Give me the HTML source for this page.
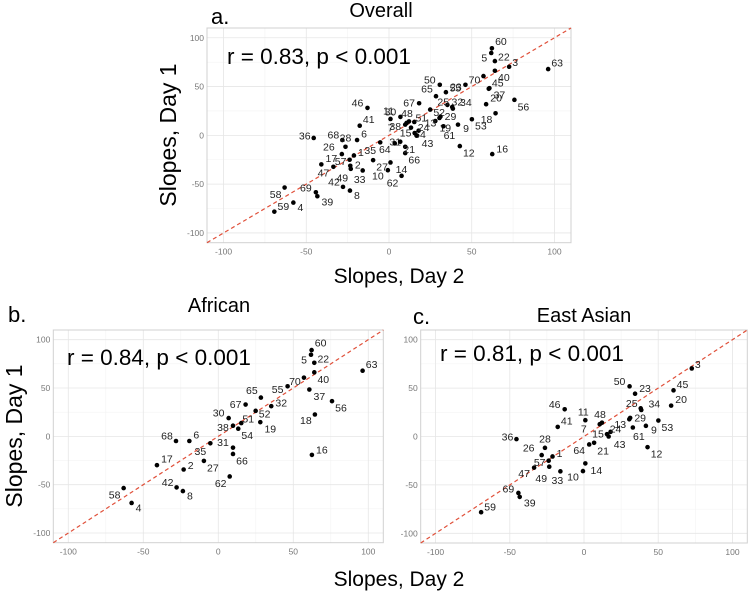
<!DOCTYPE html>
<html><head><meta charset="utf-8">
<style>
html,body{margin:0;padding:0;background:#fff;}
svg{display:block;font-family:"Liberation Sans",Arial,sans-serif;}
</style></head>
<body>
<svg id="fig" width="750" height="597" viewBox="0 0 750 597" xmlns="http://www.w3.org/2000/svg">
  <text x="211" y="24" font-size="22">a.</text>
  <text x="381" y="17" font-size="20" text-anchor="middle">Overall</text>
  <text transform="translate(176,135) rotate(-90)" font-size="23" text-anchor="middle">Slopes, Day 1</text>
  <text x="399" y="283" font-size="21" text-anchor="middle">Slopes, Day 2</text>
  <text x="8" y="322" font-size="22">b.</text>
  <text x="219" y="312" font-size="20" text-anchor="middle">African</text>
  <text x="413" y="324" font-size="22">c.</text>
  <text x="584" y="322" font-size="20" text-anchor="middle">East Asian</text>
  <text transform="translate(22,436) rotate(-90)" font-size="23" text-anchor="middle">Slopes, Day 1</text>
  <text x="399" y="586" font-size="21" text-anchor="middle">Slopes, Day 2</text>
</svg>
<script>
// African panel data
const africanIds = ["60","5","22","40","63","70","55","37","56","18","16","65","67","32","52","30","51","38","54","19","68","6","35","31","66","27","17","2","62","42","8","58","4"];
const africanDay2 = [62.2,61.8,64,64,96.2,57.1,46.2,60.7,75.8,64.4,62.4,28.4,18.2,35.3,24.9,6.9,15.3,9.8,13.3,28,-28.2,-19.3,-5.3,9.8,9.8,-9.6,-40.9,-23.1,7.6,-27.8,-23.6,-63.1,-57.8];
const africanDay1 = [89.2,84.4,76.1,66.2,67.9,60.7,51.8,48.4,36.4,22.6,-19.2,40.1,32.9,31.2,26.4,18.9,13.7,11,7.9,14.7,-4.8,-4.8,-7.2,-11.7,-18.2,-25.4,-29.8,-34.3,-41.5,-52.8,-56.6,-53.5,-68.9];
const africanLabelDx = [9,-7,9,9,9,-9,-10,10,9,-9,10,-9,-10,10,9,-10,7,-10,9,10,-9,7,-10,-10,9,9,10,7,-9,-9,7,-9,7];
const africanLabelDy = [-7,5,-4,7,-6,4,3,7,7,6,-5,-7,0,-3,3,-5,-4,2,7,7,-5,-6,8,-5,7,7,-6,-4,7,-5,5,7,5];

// East Asian panel data
const eastIds = ["3","50","23","45","20","25","34","29","13","61","9","53","12","46","41","11","48","7","24","15","43","21","64","36","28","26","1","57","49","47","33","10","14","69","39","59"];
const eastDay2 = [72.6,30.7,34.4,60.3,58.7,38.2,38.6,31.1,30.5,32.9,41.7,50.1,42.8,-13,-17.7,0.9,12.1,10.6,17.9,15.5,16.6,6.8,3.5,-45.5,-26.3,-28.5,-21.2,-23.8,-23.4,-33.6,-15.9,-0.7,0.9,-44.2,-43.3,-69.3];
const eastDay1 = [70.3,51.8,44.2,47.7,31.9,29.1,27.4,19.2,17.8,9.3,11,16.5,-11,28.1,9.9,16.8,14.3,12.7,4.8,2.4,0,-6.5,-8.2,-2.7,-11.7,-19.2,-20.6,-25,-31.2,-32.2,-36,-35.7,-27.8,-58.3,-62.4,-78.2];
const eastLabelDx = [6,-10,10,9,10,-9,13,10,-9,6,8,9,9,-10,9,-2,-2,-16,5,-9,11,9,-10,-9,0,-13,7,-9,-8,-10,-3,-10,11,-10,10,9];
const eastLabelDy = [-4,-5,-5,-6,-6,-5,-6,0,5,9,4,7,7,-5,-6,-8,-8,5,-3,0,8,8,6,-2,-9,-7,-3,2,12,6,9,6,7,-4,6,-5];

const tickValues = [-100,-50,0,50,100];
const tickLabels = ["-100","-50","0","50","100"];
const minorValues = [-75,-25,25,75];
const axisDomain = [-110,110];

const statA = "r = 0.83, p < 0.001";
const statB = "r = 0.84, p < 0.001";
const statC = "r = 0.81, p < 0.001";

const NS = "http://www.w3.org/2000/svg";
const svg = document.getElementById("fig");
function mk(tag, attrs, parent){
  const e = document.createElementNS(NS, tag);
  for (const k in attrs) e.setAttribute(k, attrs[k]);
  (parent||svg).appendChild(e);
  return e;
}
function drawPanel(key, box, stat, statX, statY, ids, xs, ys, ldx, ldy){
  const g = mk("g", {});
  
  
  const sx = v => box.l + (v - axisDomain[0]) / (axisDomain[1]-axisDomain[0]) * (box.r - box.l);
  const sy = v => box.b - (v - axisDomain[0]) / (axisDomain[1]-axisDomain[0]) * (box.b - box.t);
  mk("rect", {x:box.l, y:box.t, width:box.r-box.l, height:box.b-box.t, fill:"#fff"}, g);
  minorValues.forEach(v=>{
    const gl = mk("line", {x1:sx(v), x2:sx(v), y1:box.t, y2:box.b, stroke:"#f3f3f3", "stroke-width":0.6}, g);
    
    
    const gl2 = mk("line", {y1:sy(v), y2:sy(v), x1:box.l, x2:box.r, stroke:"#f3f3f3", "stroke-width":0.6}, g);
    
    
  });
  tickValues.forEach((v,i)=>{
    const gl = mk("line", {x1:sx(v), x2:sx(v), y1:box.t, y2:box.b, stroke:"#e6e6e6", "stroke-width":0.8}, g);
    
    
    const gl2 = mk("line", {y1:sy(v), y2:sy(v), x1:box.l, x2:box.r, stroke:"#e6e6e6", "stroke-width":0.8}, g);
    
    
    const tx = mk("text", {x:sx(v), y:box.b+12, "font-size":8.5, fill:"#777", "text-anchor":"middle"}, g);
    tx.textContent = tickLabels[i];
    
    
    const ty = mk("text", {x:box.l-3, y:sy(v)+3, "font-size":8.5, fill:"#777", "text-anchor":"end"}, g);
    ty.textContent = tickLabels[i];
    
    
  });
  const border = mk("rect", {x:box.l, y:box.t, width:box.r-box.l, height:box.b-box.t, fill:"none", stroke:"#d0d0d0", "stroke-width":1}, g);
  
  
  const ref = mk("line", {x1:sx(axisDomain[0]), y1:sy(axisDomain[0]), x2:sx(axisDomain[1]), y2:sy(axisDomain[1]), stroke:"#e0503a", "stroke-width":1.2, "stroke-dasharray":"4,3"}, g);
  
  
  for (let i=0;i<ids.length;i++){
    const c = mk("circle", {cx:sx(xs[i]), cy:sy(ys[i]), r:2.3, fill:"#000"}, g);
    
    
    const t = mk("text", {x:sx(xs[i])+ldx[i], y:sy(ys[i])+ldy[i]+3.5, "font-size":10.5, fill:"#222", "text-anchor":"middle"}, g);
    t.textContent = ids[i];
    
    
  }
  const st = mk("text", {x:statX, y:statY, "font-size":22.5, fill:"#000"}, g);
  st.textContent = stat;
  
  
}
const overallIds = africanIds.concat(eastIds);
const overallDay2 = africanDay2.concat(eastDay2);
const overallDay1 = africanDay1.concat(eastDay1);
const overallDx = africanLabelDx.concat(eastLabelDx);
const overallDy = africanLabelDy.concat(eastLabelDy);
drawPanel("overall", {l:207,r:571,t:28,b:242.7}, statA, 227, 64, overallIds, overallDay2, overallDay1, overallDx, overallDy);
drawPanel("african", {l:53.3,r:383.3,t:330,b:542.7}, statB, 67, 365, africanIds, africanDay2, africanDay1, africanLabelDx, africanLabelDy);
drawPanel("east-asian", {l:420.7,r:747.3,t:330,b:543}, statC, 440, 361, eastIds, eastDay2, eastDay1, eastLabelDx, eastLabelDy);
</script>
</body></html>
